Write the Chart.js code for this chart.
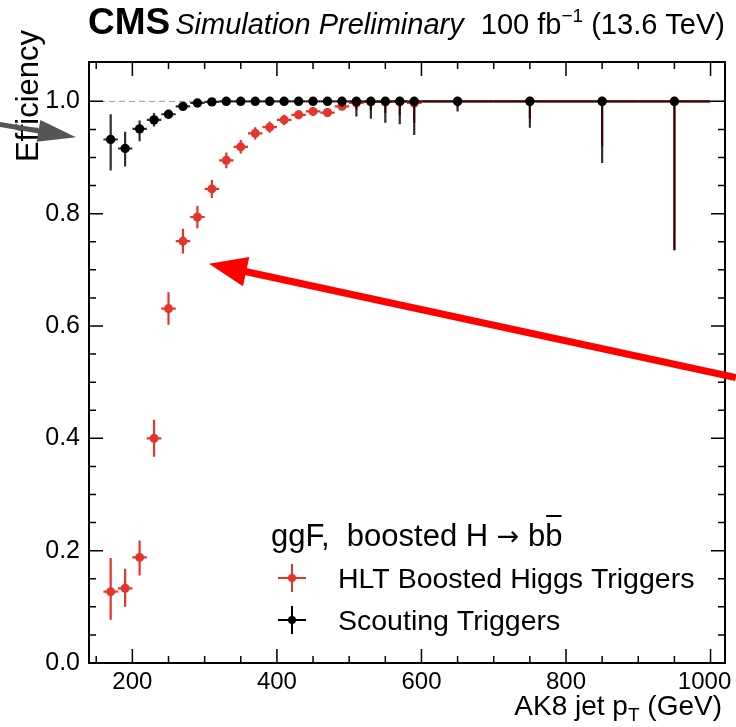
<!DOCTYPE html>
<html>
<head>
<meta charset="utf-8">
<script src="https://cdn.jsdelivr.net/npm/chart.js@4.4.1/dist/chart.umd.min.js"></script>
<style>
  html, body { margin: 0; padding: 0; background: #fff; }
  canvas { display: block; }
</style>
</head>
<body>
<canvas id="eff" width="736" height="727"></canvas>
<script>
// bin centres (GeV) and half widths
const binCenters = [170, 190, 210, 230, 250, 270, 290, 310, 330, 350, 370, 390, 410, 430, 450, 470, 490, 510, 530, 550, 570, 590, 650, 750, 850, 950];
const binHalfWidths = [10, 10, 10, 10, 10, 10, 10, 10, 10, 10, 10, 10, 10, 10, 10, 10, 10, 10, 10, 10, 10, 10, 50, 50, 50, 50];

// HLT Boosted Higgs triggers
const hltEff = [0.127, 0.133, 0.188, 0.400, 0.631, 0.751, 0.794, 0.844, 0.895, 0.919, 0.943, 0.954, 0.967, 0.976, 0.982, 0.980, 0.991, 0.997, 0.999, 0.999, 1.0, 0.997, 1.0, 1.0, 1.0, 1.0];
const hltErrHigh = [0.06, 0.035, 0.03, 0.033, 0.029, 0.022, 0.02, 0.016, 0.014, 0.012, 0.011, 0.01, 0.009, 0.008, 0.008, 0.008, 0.006, 0.003, 0.001, 0.001, 0, 0.003, 0, 0, 0, 0];
const hltErrLow = [0.05, 0.033, 0.032, 0.033, 0.029, 0.022, 0.02, 0.016, 0.014, 0.012, 0.011, 0.01, 0.009, 0.008, 0.008, 0.008, 0.007, 0.012, 0.015, 0.02, 0.025, 0.035, 0.01, 0.03, 0.08, 0.265];

// Scouting triggers
const scoutEff = [0.932, 0.916, 0.951, 0.967, 0.977, 0.991, 0.997, 0.999, 1.0, 1.0, 1.0, 1.0, 1.0, 1.0, 1.0, 1.0, 1.0, 1.0, 1.0, 1.0, 1.0, 1.0, 1.0, 1.0, 1.0, 1.0];
const scoutErrHigh = [0.045, 0.03, 0.015, 0.012, 0.008, 0.005, 0.003, 0.001, 0, 0, 0, 0, 0, 0, 0, 0, 0, 0, 0, 0, 0, 0, 0, 0, 0, 0];
const scoutErrLow = [0.055, 0.032, 0.022, 0.012, 0.008, 0.006, 0.004, 0.003, 0.003, 0.003, 0.003, 0.003, 0.003, 0.003, 0.003, 0.005, 0.01, 0.027, 0.031, 0.038, 0.041, 0.06, 0.018, 0.047, 0.11, 0.265];

const xTickLabels = [200, 400, 600, 800, 1000];
const yTickLabels = ['0.0', '0.2', '0.4', '0.6', '0.8', '1.0'];
const xMinorStep = 50;

const RED = '#e5352b';
const FONT = "'Liberation Sans', Arial, sans-serif";

// annotation arrows, in data coordinates [tail, tip]
const redArrow = [[1035, 0.508], [306, 0.711]];
const grayArrow = [[16, 0.959], [122, 0.936]];

Chart.defaults.font.family = FONT;
Chart.defaults.color = '#000';

function toPoints(xs, ys) {
    return xs.map((x, i) => ({x: x, y: ys[i]}));
}

const errorBars = {
    id: 'errorBars',
    beforeDatasetDraw(chart, args) {
        const ds = chart.data.datasets[args.index];
        const xs = chart.scales.x, ys = chart.scales.y;
        const ctx = chart.ctx;
        ctx.save();
        ctx.strokeStyle = ds.errColor;
        ctx.lineWidth = 2.2;
        ds.data.forEach((p, i) => {
            const px = xs.getPixelForValue(p.x);
            const py = ys.getPixelForValue(p.y);
            ctx.beginPath();
            ctx.moveTo(xs.getPixelForValue(p.x - binHalfWidths[i]), py);
            ctx.lineTo(xs.getPixelForValue(p.x + binHalfWidths[i]), py);
            ctx.moveTo(px, ys.getPixelForValue(p.y + ds.errHigh[i]));
            ctx.lineTo(px, ys.getPixelForValue(p.y - ds.errLow[i]));
            ctx.stroke();
        });
        ctx.restore();
    }
};

function drawArrow(ctx, x0, y0, x1, y1, width, head, halfW, color) {
    const ang = Math.atan2(y1 - y0, x1 - x0);
    const bx = x1 - Math.cos(ang) * head;
    const by = y1 - Math.sin(ang) * head;
    ctx.save();
    ctx.strokeStyle = color;
    ctx.fillStyle = color;
    ctx.lineWidth = width;
    ctx.beginPath();
    ctx.moveTo(x0, y0);
    ctx.lineTo(bx + Math.cos(ang) * 2, by + Math.sin(ang) * 2);
    ctx.stroke();
    ctx.beginPath();
    ctx.moveTo(x1, y1);
    ctx.lineTo(bx + Math.sin(ang) * halfW, by - Math.cos(ang) * halfW);
    ctx.lineTo(bx - Math.sin(ang) * halfW, by + Math.cos(ang) * halfW);
    ctx.closePath();
    ctx.fill();
    ctx.restore();
}

const cmsDecor = {
    id: 'cmsDecor',
    beforeDatasetsDraw(chart) {
        const {ctx, chartArea: a, scales: {y}} = chart;
        // dashed reference line at 1
        ctx.save();
        ctx.strokeStyle = '#9a9a9a';
        ctx.lineWidth = 1;
        ctx.setLineDash([6, 4]);
        ctx.beginPath();
        ctx.moveTo(a.left, y.getPixelForValue(1));
        ctx.lineTo(a.right, y.getPixelForValue(1));
        ctx.stroke();
        ctx.restore();
    },
    afterDraw(chart) {
        const {ctx, chartArea: a, scales: {x, y}} = chart;
        ctx.save();
        // frame
        ctx.strokeStyle = '#000';
        ctx.lineWidth = 2;
        ctx.strokeRect(a.left, a.top, a.right - a.left, a.bottom - a.top);
        // inward ticks
        ctx.lineWidth = 1.5;
        x.ticks.forEach(t => {
            const len = xTickLabels.includes(t.value) ? 14 : 7;
            const px = x.getPixelForValue(t.value);
            ctx.beginPath();
            ctx.moveTo(px, a.bottom); ctx.lineTo(px, a.bottom - len);
            ctx.moveTo(px, a.top); ctx.lineTo(px, a.top + len);
            ctx.stroke();
        });
        y.ticks.forEach(t => {
            const k = Math.round(t.value * 100);
            if (k % 5 !== 0 || t.value > 1.06) return;
            const len = k % 20 === 0 ? 14 : 7;
            const py = y.getPixelForValue(t.value);
            ctx.beginPath();
            ctx.moveTo(a.left, py); ctx.lineTo(a.left + len, py);
            ctx.moveTo(a.right, py); ctx.lineTo(a.right - len, py);
            ctx.stroke();
        });

        // header
        ctx.fillStyle = '#000';
        ctx.textBaseline = 'alphabetic';
        ctx.textAlign = 'left';
        ctx.font = 'bold 37px ' + FONT;
        ctx.fillText('CMS', a.left - 1, 34);
        let cx = a.left + ctx.measureText('CMS').width + 4;
        ctx.font = 'italic 29px ' + FONT;
        ctx.fillText('Simulation Preliminary', cx, 34);
        // right part, right aligned
        const p1 = '100 fb', p3 = ' (13.6 TeV)';
        ctx.font = '19px ' + FONT;
        const wSup = ctx.measureText('\u22121').width;
        ctx.font = '29px ' + FONT;
        const w1 = ctx.measureText(p1).width, w3 = ctx.measureText(p3).width;
        let rx = a.right - (w1 + wSup + w3);
        ctx.fillText(p1, rx, 34);
        ctx.font = '19px ' + FONT;
        ctx.fillText('\u22121', rx + w1, 22);
        ctx.font = '29px ' + FONT;
        ctx.fillText(p3, rx + w1 + wSup, 34);

        // x axis title
        const t1 = 'AK8 jet p', t3 = ' (GeV)';
        ctx.font = '19px ' + FONT;
        const wT = ctx.measureText('T').width;
        ctx.font = '28px ' + FONT;
        const wa = ctx.measureText(t1).width, wc = ctx.measureText(t3).width;
        let tx = a.right - 3 - (wa + wT + wc);
        ctx.fillText(t1, tx, 715);
        ctx.font = '19px ' + FONT;
        ctx.fillText('T', tx + wa, 721);
        ctx.font = '28px ' + FONT;
        ctx.fillText(t3, tx + wa + wT, 715);

        // y axis title
        ctx.save();
        ctx.translate(38, 30);
        ctx.rotate(-Math.PI / 2);
        ctx.textAlign = 'right';
        ctx.font = '31px ' + FONT;
        ctx.fillText('Efficiency', 0, 0);
        ctx.restore();

        // legend
        const lx0 = 271;
        ctx.font = '31px ' + FONT;
        const h1 = 'ggF,  boosted H ';
        const h3 = ' bb';
        ctx.fillText(h1, lx0, 546);
        let hx = lx0 + ctx.measureText(h1).width;
        ctx.font = "27px 'DejaVu Sans', sans-serif";
        ctx.fillText('\u2192', hx, 545);
        hx += ctx.measureText('\u2192').width;
        ctx.font = '31px ' + FONT;
        ctx.fillText(h3, hx, 546);
        const endX = hx + ctx.measureText(h3).width;
        const bw = ctx.measureText('b').width;
        ctx.lineWidth = 2;
        ctx.beginPath();
        ctx.moveTo(endX - bw + 1, 516);
        ctx.lineTo(endX - 1, 516);
        ctx.stroke();
        const entries = [
            {label: 'HLT Boosted Higgs Triggers', color: RED, yy: 578},
            {label: 'Scouting Triggers', color: '#000', yy: 620}
        ];
        entries.forEach(e => {
            const mx = 292;
            ctx.strokeStyle = e.color;
            ctx.fillStyle = e.color;
            ctx.lineWidth = 2;
            ctx.beginPath();
            ctx.moveTo(mx - 14, e.yy); ctx.lineTo(mx + 14, e.yy);
            ctx.moveTo(mx, e.yy - 14); ctx.lineTo(mx, e.yy + 14);
            ctx.stroke();
            ctx.beginPath();
            ctx.arc(mx, e.yy, 4, 0, Math.PI * 2);
            ctx.fill();
            ctx.fillStyle = '#000';
            ctx.font = '28.5px ' + FONT;
            ctx.fillText(e.label, 338, e.yy + 10);
        });

        // annotation arrows
        drawArrow(ctx, x.getPixelForValue(redArrow[0][0]), y.getPixelForValue(redArrow[0][1]),
            x.getPixelForValue(redArrow[1][0]), y.getPixelForValue(redArrow[1][1]), 7, 38, 15, '#ff0000');
        drawArrow(ctx, x.getPixelForValue(grayArrow[0][0]), y.getPixelForValue(grayArrow[0][1]),
            x.getPixelForValue(grayArrow[1][0]), y.getPixelForValue(grayArrow[1][1]), 5, 38, 11, '#555555');
        ctx.restore();
    }
};

new Chart(document.getElementById('eff'), {
    type: 'scatter',
    data: {
        datasets: [
            {
                label: 'Scouting Triggers',
                data: toPoints(binCenters, scoutEff),
                errHigh: scoutErrHigh,
                errLow: scoutErrLow,
                errColor: 'rgba(0,0,0,0.82)',
                backgroundColor: '#000',
                borderColor: '#000',
                pointRadius: 4.7,
                pointBorderWidth: 0
            },
            {
                label: 'HLT Boosted Higgs Triggers',
                data: toPoints(binCenters, hltEff),
                errHigh: hltErrHigh,
                errLow: hltErrLow,
                errColor: RED,
                backgroundColor: RED,
                borderColor: RED,
                pointRadius: 4.5,
                pointBorderWidth: 0
            }
        ]
    },
    options: {
        responsive: false,
        animation: false,
        clip: false,
        layout: { padding: { top: 62, right: 11, left: 0, bottom: 0 } },
        plugins: {
            legend: { display: false },
            tooltip: { enabled: false }
        },
        scales: {
            x: {
                type: 'linear',
                min: 140,
                max: 1020,
                grid: { display: false, drawTicks: false },
                border: { display: false },
                afterBuildTicks: s => {
                    const ticks = [];
                    for (let v = 150; v <= 1000; v += xMinorStep) ticks.push({value: v});
                    s.ticks = ticks;
                },
                ticks: {
                    autoSkip: false,
                    maxRotation: 0,
                    padding: 5,
                    font: { size: 24 },
                    // trailing space nudges the last label left so it stays on the canvas
                    callback: v => !xTickLabels.includes(v) ? '' :
                        (v === xTickLabels[xTickLabels.length - 1] ? v + '\u2002' : String(v))
                },
                afterFit: s => { s.height = 64; s.paddingLeft = 0; s.paddingRight = 0; }
            },
            y: {
                min: 0,
                max: 1.07,
                grid: { display: false, drawTicks: false },
                border: { display: false },
                ticks: {
                    stepSize: 0.05,
                    autoSkip: false,
                    padding: 9,
                    font: { size: 25 },
                    callback: v => {
                        const s = v.toFixed(1);
                        return (Math.round(v * 100) % 20 === 0 && yTickLabels.includes(s)) ? s : '';
                    }
                },
                afterFit: s => { s.width = 89; s.paddingTop = 0; s.paddingBottom = 0; }
            }
        }
    },
    plugins: [errorBars, cmsDecor]
});
</script>
</body>
</html>
